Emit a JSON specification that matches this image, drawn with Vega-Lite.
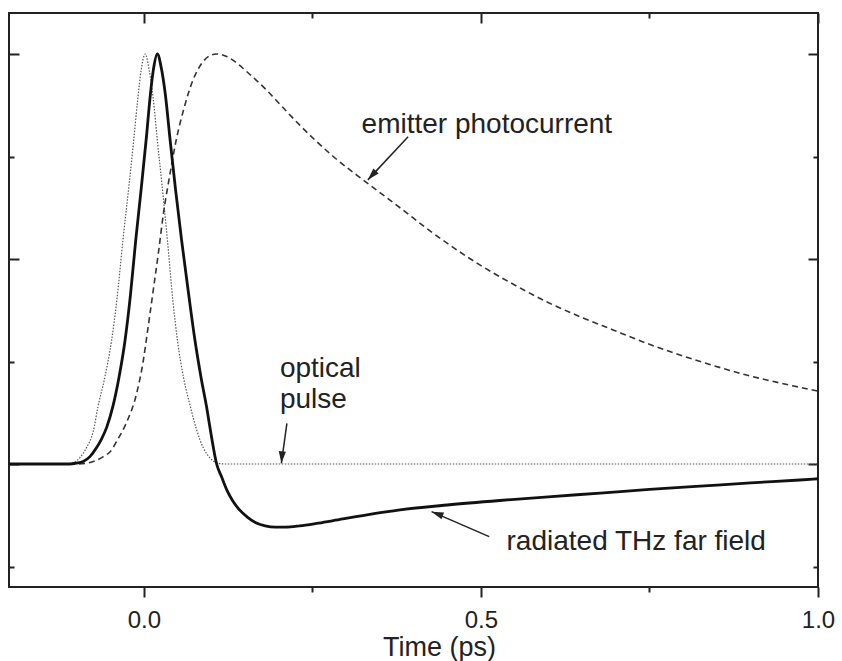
{
  "$schema": "https://vega.github.io/schema/vega-lite/v6.json",
  "width": 809,
  "height": 574,
  "autosize": {"type": "none"},
  "padding": {"left": 9, "top": 13, "right": 24, "bottom": 74},
  "background": "white",
  "config": {
    "view": {"stroke": "#222", "strokeWidth": 2},
    "font": "Liberation Sans",
    "axis": {
      "domain": false, "grid": false, "tickColor": "#222", "tickWidth": 2,
      "labelFont": "Liberation Sans", "labelFontSize": 24, "labelColor": "#222",
      "titleFont": "Liberation Sans", "titleFontSize": 27, "titleFontWeight": "normal", "titleColor": "#222",
      "labelFlush": false, "labelOverlap": false
    }
  },
  "datasets": {
    "curves": [
      {"series": "optical", "t": -0.2, "v": 0},
      {"series": "optical", "t": -0.12, "v": 0},
      {"series": "optical", "t": -0.105, "v": 0.003},
      {"series": "optical", "t": -0.095, "v": 0.015},
      {"series": "optical", "t": -0.085, "v": 0.04},
      {"series": "optical", "t": -0.075, "v": 0.08},
      {"series": "optical", "t": -0.068, "v": 0.14},
      {"series": "optical", "t": -0.058, "v": 0.21},
      {"series": "optical", "t": -0.048, "v": 0.30},
      {"series": "optical", "t": -0.04, "v": 0.40},
      {"series": "optical", "t": -0.031, "v": 0.546},
      {"series": "optical", "t": -0.022, "v": 0.68},
      {"series": "optical", "t": -0.015, "v": 0.79},
      {"series": "optical", "t": -0.009, "v": 0.89},
      {"series": "optical", "t": -0.004, "v": 0.96},
      {"series": "optical", "t": 0.002, "v": 1.0},
      {"series": "optical", "t": 0.008, "v": 0.96},
      {"series": "optical", "t": 0.014, "v": 0.89},
      {"series": "optical", "t": 0.02, "v": 0.79},
      {"series": "optical", "t": 0.027, "v": 0.68},
      {"series": "optical", "t": 0.035, "v": 0.546},
      {"series": "optical", "t": 0.043, "v": 0.40},
      {"series": "optical", "t": 0.05, "v": 0.30},
      {"series": "optical", "t": 0.059, "v": 0.21},
      {"series": "optical", "t": 0.069, "v": 0.14},
      {"series": "optical", "t": 0.078, "v": 0.085},
      {"series": "optical", "t": 0.088, "v": 0.04},
      {"series": "optical", "t": 0.098, "v": 0.015},
      {"series": "optical", "t": 0.108, "v": 0.003},
      {"series": "optical", "t": 0.12, "v": 0},
      {"series": "optical", "t": 1.0, "v": 0},

      {"series": "photo", "t": -0.2, "v": 0},
      {"series": "photo", "t": -0.1, "v": 0},
      {"series": "photo", "t": -0.085, "v": 0.002},
      {"series": "photo", "t": -0.07, "v": 0.009},
      {"series": "photo", "t": -0.06, "v": 0.018},
      {"series": "photo", "t": -0.05, "v": 0.03},
      {"series": "photo", "t": -0.038, "v": 0.062},
      {"series": "photo", "t": -0.026, "v": 0.1},
      {"series": "photo", "t": -0.011, "v": 0.17},
      {"series": "photo", "t": -0.001, "v": 0.25},
      {"series": "photo", "t": 0.006, "v": 0.33},
      {"series": "photo", "t": 0.014, "v": 0.424},
      {"series": "photo", "t": 0.022, "v": 0.52},
      {"series": "photo", "t": 0.029, "v": 0.61},
      {"series": "photo", "t": 0.038, "v": 0.70},
      {"series": "photo", "t": 0.048, "v": 0.79},
      {"series": "photo", "t": 0.06, "v": 0.87},
      {"series": "photo", "t": 0.073, "v": 0.937},
      {"series": "photo", "t": 0.085, "v": 0.975},
      {"series": "photo", "t": 0.097, "v": 0.995},
      {"series": "photo", "t": 0.108, "v": 1.0},
      {"series": "photo", "t": 0.12, "v": 0.996},
      {"series": "photo", "t": 0.132, "v": 0.985},
      {"series": "photo", "t": 0.152, "v": 0.958},
      {"series": "photo", "t": 0.182, "v": 0.912},
      {"series": "photo", "t": 0.206, "v": 0.87},
      {"series": "photo", "t": 0.231, "v": 0.827},
      {"series": "photo", "t": 0.256, "v": 0.787},
      {"series": "photo", "t": 0.281, "v": 0.75},
      {"series": "photo", "t": 0.33, "v": 0.687},
      {"series": "photo", "t": 0.38, "v": 0.625},
      {"series": "photo", "t": 0.429, "v": 0.563},
      {"series": "photo", "t": 0.479, "v": 0.506},
      {"series": "photo", "t": 0.499, "v": 0.485},
      {"series": "photo", "t": 0.553, "v": 0.434},
      {"series": "photo", "t": 0.597, "v": 0.396},
      {"series": "photo", "t": 0.646, "v": 0.36},
      {"series": "photo", "t": 0.696, "v": 0.327},
      {"series": "photo", "t": 0.745, "v": 0.295},
      {"series": "photo", "t": 0.795, "v": 0.266},
      {"series": "photo", "t": 0.845, "v": 0.24},
      {"series": "photo", "t": 0.894, "v": 0.217},
      {"series": "photo", "t": 0.945, "v": 0.197},
      {"series": "photo", "t": 1.0, "v": 0.178},

      {"series": "thz", "t": -0.2, "v": 0},
      {"series": "thz", "t": -0.11, "v": 0},
      {"series": "thz", "t": -0.1, "v": 0.002},
      {"series": "thz", "t": -0.09, "v": 0.006},
      {"series": "thz", "t": -0.08, "v": 0.018},
      {"series": "thz", "t": -0.07, "v": 0.04},
      {"series": "thz", "t": -0.063, "v": 0.06},
      {"series": "thz", "t": -0.055, "v": 0.09},
      {"series": "thz", "t": -0.046, "v": 0.14},
      {"series": "thz", "t": -0.037, "v": 0.21},
      {"series": "thz", "t": -0.028, "v": 0.30},
      {"series": "thz", "t": -0.02, "v": 0.41},
      {"series": "thz", "t": -0.012, "v": 0.546},
      {"series": "thz", "t": -0.004, "v": 0.67},
      {"series": "thz", "t": 0.004, "v": 0.8},
      {"series": "thz", "t": 0.009, "v": 0.89},
      {"series": "thz", "t": 0.014, "v": 0.96},
      {"series": "thz", "t": 0.02, "v": 1.0},
      {"series": "thz", "t": 0.026, "v": 0.965},
      {"series": "thz", "t": 0.032, "v": 0.9},
      {"series": "thz", "t": 0.039, "v": 0.79},
      {"series": "thz", "t": 0.047, "v": 0.67},
      {"series": "thz", "t": 0.056, "v": 0.546},
      {"series": "thz", "t": 0.066, "v": 0.42},
      {"series": "thz", "t": 0.076, "v": 0.30},
      {"series": "thz", "t": 0.085, "v": 0.21},
      {"series": "thz", "t": 0.093, "v": 0.14},
      {"series": "thz", "t": 0.1, "v": 0.07},
      {"series": "thz", "t": 0.108, "v": 0.0},
      {"series": "thz", "t": 0.115, "v": -0.03},
      {"series": "thz", "t": 0.123, "v": -0.063},
      {"series": "thz", "t": 0.132, "v": -0.09},
      {"series": "thz", "t": 0.142, "v": -0.112},
      {"series": "thz", "t": 0.154, "v": -0.13},
      {"series": "thz", "t": 0.167, "v": -0.144},
      {"series": "thz", "t": 0.18, "v": -0.151},
      {"series": "thz", "t": 0.195, "v": -0.154},
      {"series": "thz", "t": 0.21, "v": -0.154},
      {"series": "thz", "t": 0.231, "v": -0.151},
      {"series": "thz", "t": 0.256, "v": -0.145},
      {"series": "thz", "t": 0.281, "v": -0.138},
      {"series": "thz", "t": 0.331, "v": -0.124},
      {"series": "thz", "t": 0.38, "v": -0.112},
      {"series": "thz", "t": 0.45, "v": -0.1},
      {"series": "thz", "t": 0.528, "v": -0.089},
      {"series": "thz", "t": 0.6, "v": -0.08},
      {"series": "thz", "t": 0.677, "v": -0.071},
      {"series": "thz", "t": 0.75, "v": -0.062},
      {"series": "thz", "t": 0.825, "v": -0.054},
      {"series": "thz", "t": 0.9, "v": -0.046},
      {"series": "thz", "t": 0.973, "v": -0.039},
      {"series": "thz", "t": 1.0, "v": -0.036}
    ],
    "labels": [
      {"label": "emitter photocurrent", "t": 0.323, "v": 0.807},
      {"label": "optical", "t": 0.2018, "v": 0.213},
      {"label": "pulse", "t": 0.2018, "v": 0.136},
      {"label": "radiated THz far field", "t": 0.538, "v": -0.21}
    ],
    "arrows": [
      {"id": "emitter", "t": 0.392, "v": 0.798, "t2": 0.3323, "v2": 0.693},
      {"id": "optical", "t": 0.2122, "v": 0.099, "t2": 0.204, "v2": 0.0016},
      {"id": "thz", "t": 0.5123, "v": -0.177, "t2": 0.4268, "v2": -0.1163}
    ]
  },
  "layer": [
    {
      "data": {"name": "curves"},
      "transform": [{"filter": "datum.series == 'optical'"}],
      "mark": {"type": "line", "color": "#555", "strokeWidth": 1.2, "strokeDash": [1.5, 1.5], "interpolate": "monotone"},
      "encoding": {
        "x": {
          "field": "t", "type": "quantitative",
          "scale": {"domain": [-0.2, 1.0], "nice": false, "zero": false},
          "axis": {
            "orient": "bottom", "title": "Time (ps)",
            "values": [0, 0.25, 0.5, 0.75, 1],
            "labelExpr": "datum.value == 0.25 || datum.value == 0.75 ? '' : format(datum.value, '.1f')",
            "tickSize": {"condition": {"test": "datum.value == 0.25 || datum.value == 0.75", "value": 5}, "value": 10},
            "labelPadding": 11,
            "titleX": 430, "titleY": 68, "titleAlign": "center", "titleBaseline": "alphabetic"
          }
        },
        "y": {
          "field": "v", "type": "quantitative",
          "scale": {"domain": [-0.3, 1.1], "nice": false, "zero": false},
          "axis": {
            "orient": "left", "title": null, "labels": false,
            "values": [-0.25, 0, 0.25, 0.5, 0.75, 1],
            "tickSize": {"condition": {"test": "datum.value == 0 || datum.value == 0.5 || datum.value == 1", "value": -10}, "value": -5}
          }
        }
      }
    },
    {
      "data": {"name": "curves"},
      "transform": [{"filter": "datum.series == 'photo'"}],
      "mark": {"type": "line", "color": "#333", "strokeWidth": 1.6, "strokeDash": [6, 4], "interpolate": "monotone"},
      "encoding": {
        "x": {
          "field": "t", "type": "quantitative",
          "axis": {
            "orient": "top", "title": null, "labels": false,
            "values": [0, 0.25, 0.5, 0.75, 1],
            "tickSize": {"condition": {"test": "datum.value == 0.25 || datum.value == 0.75", "value": -5}, "value": -10}
          }
        },
        "y": {
          "field": "v", "type": "quantitative",
          "axis": {
            "orient": "right", "title": null, "labels": false,
            "values": [-0.25, 0, 0.25, 0.5, 0.75, 1],
            "tickSize": {"condition": {"test": "datum.value == 0 || datum.value == 0.5 || datum.value == 1", "value": -10}, "value": -5}
          }
        }
      }
    },
    {
      "data": {"name": "curves"},
      "transform": [{"filter": "datum.series == 'thz'"}],
      "mark": {"type": "line", "color": "#111", "strokeWidth": 2.8, "interpolate": "monotone"},
      "encoding": {
        "x": {"field": "t", "type": "quantitative", "axis": null},
        "y": {"field": "v", "type": "quantitative", "axis": null}
      }
    },
    {
      "data": {"name": "labels"},
      "mark": {"type": "text", "align": "left", "baseline": "alphabetic", "fontSize": 28, "font": "Liberation Sans", "color": "#222"},
      "encoding": {
        "x": {"field": "t", "type": "quantitative", "axis": null},
        "y": {"field": "v", "type": "quantitative", "axis": null},
        "text": {"field": "label"}
      }
    },
    {
      "data": {"name": "arrows"},
      "mark": {"type": "rule", "color": "#222", "strokeWidth": 1.5},
      "encoding": {
        "x": {"field": "t", "type": "quantitative", "axis": null},
        "y": {"field": "v", "type": "quantitative", "axis": null},
        "x2": {"field": "t2"},
        "y2": {"field": "v2"}
      }
    },
    {
      "data": {"name": "arrows"},
      "transform": [{"filter": "datum.id == 'emitter'"}],
      "mark": {"type": "point", "shape": "M0,0L-0.3,1L0.3,1Z", "filled": true, "color": "#222", "opacity": 1, "size": 576, "angle": 222.7, "strokeWidth": 0},
      "encoding": {
        "x": {"field": "t2", "type": "quantitative", "axis": null},
        "y": {"field": "v2", "type": "quantitative", "axis": null}
      }
    },
    {
      "data": {"name": "arrows"},
      "transform": [{"filter": "datum.id == 'optical'"}],
      "mark": {"type": "point", "shape": "M0,0L-0.3,1L0.3,1Z", "filled": true, "color": "#222", "opacity": 1, "size": 576, "angle": 184.7, "strokeWidth": 0},
      "encoding": {
        "x": {"field": "t2", "type": "quantitative", "axis": null},
        "y": {"field": "v2", "type": "quantitative", "axis": null}
      }
    },
    {
      "data": {"name": "arrows"},
      "transform": [{"filter": "datum.id == 'thz'"}],
      "mark": {"type": "point", "shape": "M0,0L-0.3,1L0.3,1Z", "filled": true, "color": "#222", "opacity": 1, "size": 576, "angle": 290.5, "strokeWidth": 0},
      "encoding": {
        "x": {"field": "t2", "type": "quantitative", "axis": null},
        "y": {"field": "v2", "type": "quantitative", "axis": null}
      }
    }
  ]
}
